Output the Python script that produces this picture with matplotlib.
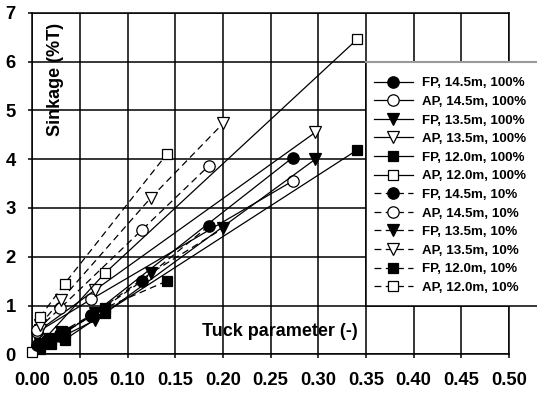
import matplotlib
matplotlib.use("Agg")
import matplotlib.pyplot as plt
from matplotlib.lines import Line2D
from matplotlib.patches import Rectangle

plt.rcParams['font.family'] = ['Liberation Sans', 'DejaVu Sans']
plt.rcParams['font.weight'] = 'bold'

# ---------------- data (Tuck parameter, sinkage %T) ----------------
labels = ["FP, 14.5m, 100%", "AP, 14.5m, 100%", "FP, 13.5m, 100%", "AP, 13.5m, 100%",
          "FP, 12.0m, 100%", "AP, 12.0m, 100%", "FP, 14.5m, 10%", "AP, 14.5m, 10%",
          "FP, 13.5m, 10%", "AP, 13.5m, 10%", "FP, 12.0m, 10%", "AP, 12.0m, 10%"]

fp145_100_x = [0.005, 0.015, 0.029, 0.062, 0.273]
fp145_100_y = [0.15, 0.25, 0.38, 0.80, 4.03]
ap145_100_x = [0.005, 0.062, 0.273]
ap145_100_y = [0.45, 1.13, 3.55]
fp135_100_x = [0.008, 0.018, 0.030, 0.066, 0.297]
fp135_100_y = [0.15, 0.26, 0.35, 0.70, 4.00]
ap135_100_x = [0.008, 0.066, 0.297]
ap135_100_y = [0.50, 1.32, 4.55]
fp120_100_x = [0.008, 0.020, 0.034, 0.076, 0.341]
fp120_100_y = [0.10, 0.22, 0.30, 0.85, 4.19]
ap120_100_x = [0.000, 0.076, 0.341]
ap120_100_y = [0.04, 1.66, 6.46]

fp145_10_x = [0.005, 0.015, 0.029, 0.062, 0.115, 0.185]
fp145_10_y = [0.20, 0.30, 0.42, 0.78, 1.50, 2.63]
ap145_10_x = [0.005, 0.029, 0.115, 0.185]
ap145_10_y = [0.50, 0.94, 2.55, 3.86]
fp135_10_x = [0.008, 0.018, 0.030, 0.066, 0.124, 0.200]
fp135_10_y = [0.22, 0.32, 0.45, 0.85, 1.66, 2.58]
ap135_10_x = [0.008, 0.030, 0.124, 0.200]
ap135_10_y = [0.60, 1.11, 3.20, 4.73]
fp120_10_x = [0.008, 0.020, 0.034, 0.076, 0.141]
fp120_10_y = [0.20, 0.30, 0.45, 0.95, 1.50]
ap120_10_x = [0.008, 0.034, 0.141]
ap120_10_y = [0.76, 1.45, 4.10]

series_x = [fp145_100_x, ap145_100_x, fp135_100_x, ap135_100_x, fp120_100_x, ap120_100_x,
            fp145_10_x, ap145_10_x, fp135_10_x, ap135_10_x, fp120_10_x, ap120_10_x]
series_y = [fp145_100_y, ap145_100_y, fp135_100_y, ap135_100_y, fp120_100_y, ap120_100_y,
            fp145_10_y, ap145_10_y, fp135_10_y, ap135_10_y, fp120_10_y, ap120_10_y]

x_ticks = [0.00, 0.05, 0.10, 0.15, 0.20, 0.25, 0.30, 0.35, 0.40, 0.45, 0.50]
y_ticks = [0, 1, 2, 3, 4, 5, 6, 7]

# ---------------- styles ----------------
markers = ['o', 'o', 'v', 'v', 's', 's'] * 2
filled = [True, False] * 6
msizes = {'o': 8.2, 'v': 8.2, 's': 7.6}
dashed = (0, (5.5, 3.5))

W, H = 537, 394
fig = plt.figure(figsize=(W / 100, H / 100), dpi=100)
ax = fig.add_axes([32.3 / W, 1 - 354.3 / H, (509 - 32.3) / W, (354.3 - 12.7) / H])

handles = []
for i in range(12):
    ls = '-' if i < 6 else dashed
    m = markers[i]
    fc = 'black' if filled[i] else 'white'
    ax.plot(series_x[i], series_y[i], linestyle=ls, color='black', lw=0.9,
            marker=m, markersize=msizes[m], markerfacecolor=fc,
            markeredgecolor='black', markeredgewidth=0.9, zorder=3, clip_on=False)
    handles.append(Line2D([], [], linestyle=ls, color='black', lw=0.9, marker=m,
                          markersize=msizes[m], markerfacecolor=fc,
                          markeredgecolor='black', markeredgewidth=0.9))

ax.set_xlim(0, 0.5)
ax.set_ylim(0, 7)
ax.set_xticks(x_ticks)
ax.set_yticks(y_ticks)
ax.set_xticklabels([f"{v:.2f}" for v in x_ticks])
ax.set_yticklabels([str(v) for v in y_ticks])
ax.grid(True, color='black', lw=1.1, zorder=1)
ax.set_axisbelow(True)
for s in ax.spines.values():
    s.set_linewidth(1.1)
    s.set_color('black')
ax.tick_params(axis='both', direction='out', length=3, width=1.1, labelsize=13.3)
ax.tick_params(axis='x', pad=10)
ax.tick_params(axis='y', pad=9)
for t in ax.get_xticklabels() + ax.get_yticklabels():
    t.set_fontweight('bold')

fig.text(55 / W, 1 - 79 / H, "Sinkage (%T)", rotation=90, ha='center', va='center',
         fontsize=13, fontweight='bold')
fig.text(280 / W, 1 - 332 / H, "Tuck parameter (-)", ha='center', va='center',
         fontsize=13, fontweight='bold')

# legend background box
rect = Rectangle((366 / W, 1 - 305.5 / H), (560 - 366) / W, (305.5 - 61.5) / H,
                 transform=fig.transFigure, facecolor='white', edgecolor='black',
                 lw=1.1, zorder=4, clip_on=False)
ax.add_patch(rect)
ax.add_line(Line2D([366 / W, 1.0], [1 - 61.5 / H, 1 - 61.5 / H], transform=fig.transFigure,
                   color='#999999', lw=1.5, zorder=4.5, clip_on=False))

leg = ax.legend(handles, labels, loc='upper left',
                bbox_to_anchor=(374 / W, 1 - 77 / H), bbox_transform=fig.transFigure,
                frameon=False, borderpad=0, borderaxespad=0, handlelength=2.9,
                handletextpad=0.7, labelspacing=0.47,
                prop={'size': 9.6, 'weight': 'bold'})
leg.set_zorder(5)

fig.savefig("out.png", dpi=100)
